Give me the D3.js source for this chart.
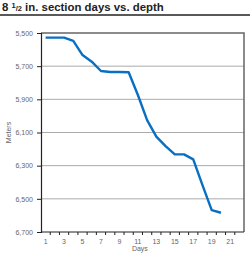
<!DOCTYPE html>
<html>
<head>
<meta charset="utf-8">
<script src="https://cdn.jsdelivr.net/npm/d3@7"></script>
<style>
  body { margin: 0; background: #fff; }
  svg { display: block; font-family: "Liberation Sans", Arial, sans-serif; }
</style>
</head>
<body>
<div id="chart"></div>
<script>
// days vs. depth, 8 1/2 in. section
const days = d3.range(1, 23);
const lineDays = [1, 2, 3, 4, 5, 6, 7, 8, 9, 10, 11, 12, 13, 14, 15, 16, 17, 18, 19, 20];
const depths = [5528, 5528, 5528, 5548, 5633, 5673, 5729, 5735, 5735, 5737, 5874, 6025, 6125, 6182, 6232, 6232, 6262, 6417, 6568, 6584];
const yTicks = [5500, 5700, 5900, 6100, 6300, 6500, 6700];
const xLabels = [1, 3, 5, 7, 9, 11, 13, 15, 17, 19, 21];

const width = 250, height = 256;
const margin = { top: 33, right: 6, bottom: 24, left: 41 };

const svg = d3.select("#chart").append("svg")
    .attr("width", width)
    .attr("height", height);

// Title
const title = svg.append("text")
    .attr("x", 2)
    .attr("y", 11)
    .style("font-family", "'Liberation Sans Narrow', 'Liberation Sans', Arial, sans-serif")
    .style("font-weight", "bold")
    .style("font-size", "11.4px")
    .style("fill", "#222");
title.append("tspan").text("8 ");
title.append("tspan").attr("dy", -3.5).style("font-size", "7.5px").text("1");
title.append("tspan").attr("dy", 3.5).style("font-size", "7.5px").text("/2");
title.append("tspan").text(" in. section days vs. depth");

svg.append("line")
    .attr("x1", 0).attr("x2", width)
    .attr("y1", 15).attr("y2", 15)
    .attr("stroke", "#222")
    .attr("stroke-width", 1.6);

const x = d3.scaleBand()
    .domain(days)
    .range([margin.left, width - margin.right]);

const y = d3.scaleLinear()
    .domain([5500, 6700])
    .range([margin.top, height - margin.bottom]);

// Gridlines
svg.append("g")
    .selectAll("line")
    .data(yTicks.slice(1, -1))
    .enter()
    .append("line")
    .attr("x1", margin.left)
    .attr("x2", width - margin.right)
    .attr("y1", d => y(d))
    .attr("y2", d => y(d))
    .attr("stroke", "#aaa")
    .attr("stroke-width", 1);

// Frame: top and right
svg.append("path")
    .attr("d", `M${margin.left},${margin.top}H${width - margin.right}V${height - margin.bottom}`)
    .attr("fill", "none")
    .attr("stroke", "#666")
    .attr("stroke-width", 1.5);

// Y axis
const yAxis = svg.append("g")
    .attr("transform", `translate(${margin.left},0)`)
    .call(d3.axisLeft(y).tickValues(yTicks).tickSize(4).tickPadding(4).tickFormat(d3.format(",")));
yAxis.select(".domain").attr("stroke", "#222").attr("stroke-width", 1.2);
yAxis.selectAll(".tick line").attr("stroke", "#222");
yAxis.selectAll("text").style("font-size", "7px").style("fill", "#666");

// X axis: ticks at band edges, labels on odd days
const xg = svg.append("g")
    .attr("transform", `translate(0,${height - margin.bottom})`);
xg.append("line")
    .attr("x1", margin.left).attr("x2", width - margin.right)
    .attr("stroke", "#222").attr("stroke-width", 1.2);
xg.selectAll(".tk")
    .data(days.slice(1))
    .enter()
    .append("line")
    .attr("class", "tk")
    .attr("x1", d => x(d)).attr("x2", d => x(d))
    .attr("y1", 0).attr("y2", 3)
    .attr("stroke", "#222");
xg.selectAll(".lb")
    .data(xLabels)
    .enter()
    .append("text")
    .attr("class", "lb")
    .attr("x", d => x(d) + x.bandwidth() / 2)
    .attr("y", 12)
    .attr("text-anchor", "middle")
    .style("font-size", "7px")
    .style("fill", "#666")
    .text(d => d);

// Axis titles
svg.append("text")
    .attr("x", x(11) + x.bandwidth() / 2 + 2)
    .attr("y", 251)
    .attr("text-anchor", "middle")
    .style("font-size", "7px")
    .style("fill", "#666")
    .text("Days");

svg.append("text")
    .attr("transform", `translate(11,${(margin.top + height - margin.bottom) / 2}) rotate(-90)`)
    .attr("text-anchor", "middle")
    .style("font-size", "7px")
    .style("fill", "#666")
    .text("Meters");

// Line
const line = d3.line()
    .x((d, i) => x(lineDays[i]) + x.bandwidth() / 2)
    .y(d => y(d));

svg.append("path")
    .datum(depths)
    .attr("d", line)
    .attr("fill", "none")
    .attr("stroke", "#0a6fc2")
    .attr("stroke-width", 2.4)
    .attr("stroke-linejoin", "round");
</script>
</body>
</html>
